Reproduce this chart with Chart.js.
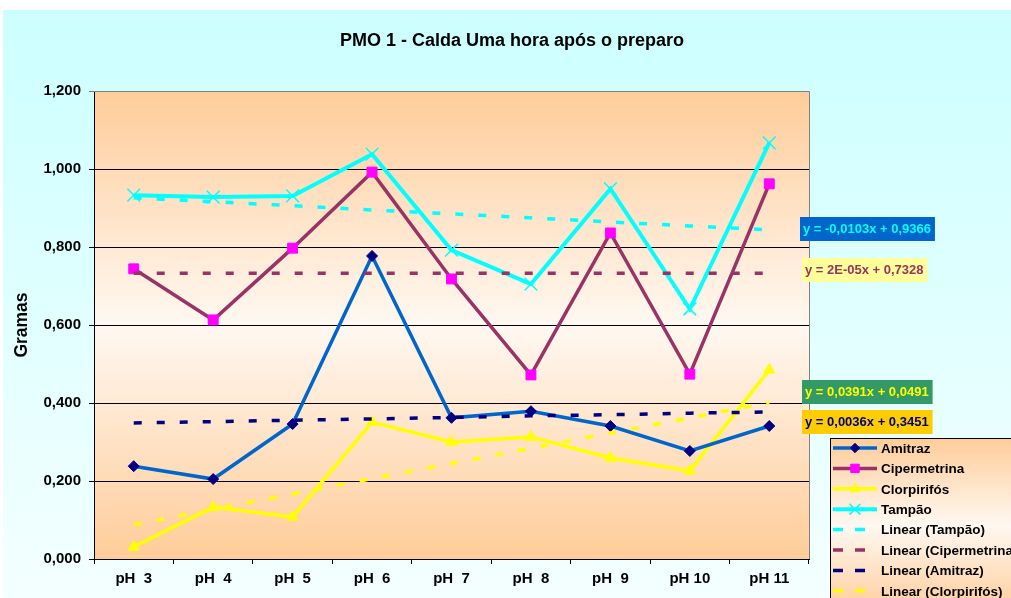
<!DOCTYPE html>
<html>
<head>
<meta charset="utf-8">
<script src="https://cdn.jsdelivr.net/npm/chart.js@4.4.0/dist/chart.umd.min.js"></script>
<style>
  html, body { margin: 0; padding: 0; background: #fff; overflow: hidden; }
  #c { display: block; }
</style>
</head>
<body>
<canvas id="c" width="1011" height="598"></canvas>
<script>
// --- DADOS ---
const categories = ['pH  3', 'pH  4', 'pH  5', 'pH  6', 'pH  7', 'pH  8', 'pH  9', 'pH 10', 'pH 11'];
const amitraz      = [0.238, 0.205, 0.346, 0.777, 0.362, 0.379, 0.341, 0.277, 0.341];
const cipermetrina = [0.744, 0.613, 0.797, 0.992, 0.718, 0.472, 0.836, 0.474, 0.962];
const clorpirifos  = [0.031, 0.133, 0.108, 0.351, 0.300, 0.313, 0.259, 0.226, 0.485];
const tampao       = [0.933, 0.928, 0.931, 1.038, 0.792, 0.705, 0.949, 0.641, 1.067];
// linhas de tendência (lidas das equações mostradas no gráfico)
const trendTampao       = [0.926, 0.916, 0.906, 0.895, 0.885, 0.875, 0.864, 0.854, 0.844];
const trendCipermetrina = [0.733, 0.733, 0.733, 0.733, 0.733, 0.733, 0.733, 0.733, 0.733];
const trendAmitraz      = [0.349, 0.352, 0.356, 0.359, 0.363, 0.367, 0.370, 0.374, 0.377];
const trendClorpirifos  = [0.088, 0.127, 0.167, 0.206, 0.245, 0.284, 0.323, 0.362, 0.401];
const equations = ['y = -0,0103x + 0,9366', 'y = 2E-05x + 0,7328', 'y = 0,0391x + 0,0491', 'y = 0,0036x + 0,3451'];
const yMin = 0, yMax = 1.2, yStep = 0.2;
const chartTitle = 'PMO 1 - Calda Uma hora após o preparo';
const yTitle = 'Gramas';

const FONT = '"Liberation Sans", Arial, sans-serif';
const fmt = v => v.toFixed(3).replace('.', ',');

function serie(label, data, line, pt, style, radius) {
    return {
        label, data, order: 1,
        borderColor: line, borderWidth: 3.5,
        pointStyle: style, pointRadius: radius, pointBackgroundColor: pt,
        pointBorderColor: pt, pointBorderWidth: style === 'crossRot' ? 1.5 : 1,
        tension: 0, fill: false
    };
}
function trend(label, data, color) {
    return {
        label, data, order: 0,
        borderColor: color, borderWidth: 3.5, borderDash: [8, 15],
        pointRadius: 0, tension: 0, fill: false
    };
}

const datasets = [
    serie('Amitraz', amitraz, '#0066CC', '#000080', 'rectRot', 5.5),
    serie('Cipermetrina', cipermetrina, '#993366', '#FF00FF', 'rect', 7),
    serie('Clorpirifós', clorpirifos, '#FFFF00', '#FFFF00', 'triangle', 6.5),
    serie('Tampão', tampao, '#00FFFF', '#00FFFF', 'crossRot', 9),
    trend('Linear (Tampão)', trendTampao, '#00FFFF'),
    trend('Linear (Cipermetrina)', trendCipermetrina, '#993366'),
    trend('Linear (Amitraz)', trendAmitraz, '#000080'),
    trend('Linear (Clorpirifós)', trendClorpirifos, '#FFFF00')
];
datasets[3].borderWidth = 4;

// fundo, moldura, título, legenda e rótulos das equações
const decor = {
    id: 'decor',
    beforeDraw(chart) {
        const c = chart.ctx, a = chart.chartArea;
        c.save();
        c.fillStyle = '#fff';
        c.fillRect(0, 0, chart.width, chart.height);
        let g = c.createLinearGradient(0, 10, 0, chart.height);
        g.addColorStop(0, '#CCFFFF');
        g.addColorStop(1, '#F4FFFF');
        c.fillStyle = g;
        c.fillRect(3, 10, chart.width - 3, chart.height - 10);
        g = c.createLinearGradient(0, a.top, 0, a.bottom);
        g.addColorStop(0, '#FFCC99');
        g.addColorStop(0.5, '#FFF8F1');
        g.addColorStop(1, '#FFCC99');
        c.fillStyle = g;
        c.fillRect(a.left, a.top, a.right - a.left, a.bottom - a.top);
        c.restore();
    },
    beforeDatasetsDraw(chart) {
        const c = chart.ctx, a = chart.chartArea;
        c.save();
        c.strokeStyle = '#808080';
        c.lineWidth = 1;
        c.beginPath();
        c.moveTo(a.left, a.top + 0.5);
        c.lineTo(a.right + 0.5, a.top + 0.5);
        c.lineTo(a.right + 0.5, a.bottom);
        c.stroke();
        c.restore();
    },
    afterDraw(chart) {
        const c = chart.ctx;
        c.save();
        // título
        c.fillStyle = '#000';
        c.font = 'bold 18px ' + FONT;
        c.textAlign = 'center';
        c.textBaseline = 'middle';
        c.fillText(chartTitle, 512, 41);

        // equações
        const eqStyle = [
            { y: 217, bg: '#0066CC', fg: '#00FFFF', x: 800 },
            { y: 258, bg: '#FFFF99', fg: '#993366', x: 802 },
            { y: 380, bg: '#339966', fg: '#FFFF00', x: 802 },
            { y: 410, bg: '#FFCC00', fg: '#000080', x: 802 }
        ];
        c.font = 'bold 13px ' + FONT;
        c.textAlign = 'left';
        equations.forEach((t, i) => {
            const s = eqStyle[i];
            const w = c.measureText(t).width + 7;
            c.fillStyle = s.bg;
            c.fillRect(s.x, s.y, w, 24);
            c.fillStyle = s.fg;
            c.fillText(t, s.x + 3, s.y + 12.5);
        });

        // legenda
        const lx = 830, ly = 438, lh = 175;
        let g = c.createLinearGradient(0, ly, 0, ly + lh);
        g.addColorStop(0, '#FFCC99');
        g.addColorStop(0.5, '#FFF8F1');
        g.addColorStop(1, '#FFCC99');
        c.fillStyle = g;
        c.fillRect(lx, ly, 200, lh);
        c.strokeStyle = '#000';
        c.lineWidth = 1;
        c.strokeRect(lx + 0.5, ly + 0.5, 200, lh);
        chart.data.datasets.forEach((d, i) => {
            const y = 448 + i * 20.4;
            c.save();
            c.strokeStyle = d.borderColor;
            c.lineWidth = d.borderDash ? 3.5 : d.borderWidth;
            if (d.borderDash) c.setLineDash([10, 12]);
            c.beginPath();
            c.moveTo(833, y);
            c.lineTo(d.borderDash ? 867 : 877, y);
            c.stroke();
            c.setLineDash([]);
            if (!d.borderDash) {
                c.fillStyle = d.pointBackgroundColor;
                c.strokeStyle = d.pointBorderColor;
                c.lineWidth = d.pointBorderWidth;
                Chart.helpers.drawPoint(c, { pointStyle: d.pointStyle, radius: d.pointRadius * 0.85, borderWidth: d.pointBorderWidth, rotation: 0 }, 855, y);
            }
            c.restore();
            c.fillStyle = '#000';
            c.font = 'bold 13.5px ' + FONT;
            c.textBaseline = 'middle';
            c.fillText(d.label, 881, y + 1);
        });
        c.restore();
    }
};

new Chart(document.getElementById('c'), {
    type: 'line',
    data: { labels: categories, datasets },
    plugins: [decor],
    options: {
        responsive: false,
        animation: false,
        devicePixelRatio: 1,
        layout: { padding: { top: 91, right: 202, left: 0, bottom: 0 } },
        plugins: { legend: { display: false }, tooltip: { enabled: false }, title: { display: false } },
        scales: {
            x: {
                offset: true,
                grid: { drawOnChartArea: false, offset: true, tickLength: 5, color: '#000' },
                border: { color: '#000', width: 1 },
                ticks: { color: '#000', font: { family: FONT, size: 15, weight: 'bold' }, padding: 6, maxRotation: 0, autoSkip: false },
                afterFit: s => { s.height = 39; }
            },
            y: {
                min: yMin, max: yMax,
                grid: { color: ctx => (ctx.tick && ctx.tick.value >= yMax - 0.001) ? '#808080' : '#000', tickLength: 5, lineWidth: 1 },
                border: { color: '#000', width: 1 },
                ticks: { stepSize: yStep, color: '#000', font: { family: FONT, size: 15, weight: 'bold' }, padding: 8, callback: v => fmt(v) },
                title: { display: true, text: yTitle, color: '#000', font: { family: FONT, size: 17.5, weight: 'bold' }, padding: { top: 12, bottom: 0 } },
                afterFit: s => { s.width = 94; }
            }
        }
    }
});
</script>
</body>
</html>
